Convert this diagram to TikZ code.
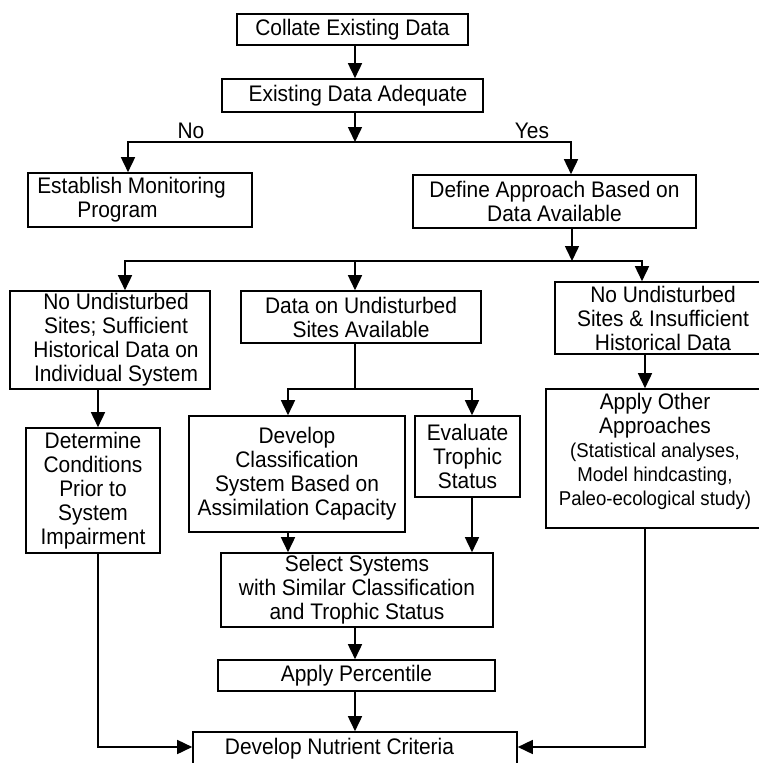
\documentclass[tikz,border=0pt]{standalone}
\usepackage{fontspec}
\setmainfont[FakeStretch=0.93]{Liberation Sans}
\usetikzlibrary{arrows.meta}
\tikzset{
  box/.style={draw, line width=1.6pt, inner sep=0pt, align=center, font=\fontsize{22.5}{24}\selectfont},
  arr/.style={line width=1.6pt, line join=miter, -{Triangle[length=15pt,width=14pt]}},
  ln/.style={line width=1.6pt},
  lbl/.style={inner sep=0pt, align=center, font=\fontsize{22.5}{24}\selectfont},
}
\newcommand{\smalltxt}{\fontsize{20}{23}\selectfont}
\begin{document}
\begin{tikzpicture}[x=1pt,y=-1pt]
\useasboundingbox (0,0) rectangle (759,763);
\clip (0,0) rectangle (759,763);

% boxes
\node[box, minimum width=231pt, minimum height=31pt] (collate) at (352.5,29.5) {Collate Existing Data};
\node[box, minimum width=261pt, minimum height=33pt] (adequate) at (352.5,95.5) {\hspace*{11pt}Existing Data Adequate};
\node[box, minimum width=224pt, minimum height=54pt] (establish) at (140,200) {Establish Monitoring\hspace*{17pt}\\Program\hspace*{45pt}};
\node[box, minimum width=283pt, minimum height=53pt] (define) at (554.5,201.5) {Define Approach Based on\\Data Available};
\node[box, minimum width=200pt, minimum height=98pt] (left3) at (110,340) {\hspace*{12pt}No Undisturbed\\\hspace*{12pt}Sites; Sufficient\\\hspace*{12pt}Historical Data on\\\hspace*{12pt}Individual System};
\node[box, minimum width=240pt, minimum height=52pt] (mid3) at (361,317) {Data on Undisturbed\\Sites Available};
\node[box, minimum width=216pt, minimum height=72pt] (right3) at (663,318) {No Undisturbed\\Sites \& Insufficient\\Historical Data};
\node[box, minimum width=134pt, minimum height=125pt] (determine) at (93,490.5) {Determine\\Conditions\\Prior to\\System\\Impairment};
\node[box, minimum width=216pt, minimum height=116pt] (classif) at (297,474) {Develop\\Classification\\System Based on\\Assimilation Capacity};
\node[box, minimum width=105pt, minimum height=81pt] (evaluate) at (467.5,456.5) {Evaluate\\Trophic\\Status};
\node[box, minimum width=218pt, minimum height=139pt] (applyother) at (655,458.5) {};
\node[lbl] (applytxt) at (655,451) {Apply Other\\Approaches\\{\smalltxt (Statistical analyses,}\\{\smalltxt Model hindcasting,}\\{\smalltxt Paleo-ecological study)}};
\node[box, minimum width=272pt, minimum height=74pt] (select) at (357,590) {Select Systems\\with Similar Classification\\and Trophic Status};
\node[box, minimum width=277pt, minimum height=31pt] (percentile) at (356.5,675.5) {Apply Percentile};
\node[box, minimum width=324pt, minimum height=34pt] (nutrient) at (355,749) {Develop Nutrient Criteria\hspace*{31pt}};

% labels
\node[lbl] (no) at (191,131) {No};
\node[lbl] (yes) at (532,131) {Yes};

% junction points
\coordinate (c1) at (355,142);
\coordinate (c1l) at (128,142);
\coordinate (c1r) at (571,142);
\coordinate (c2) at (572,261);
\coordinate (c2l) at (125,261);
\coordinate (c2m) at (355,261);
\coordinate (c2r) at (642,261);
\coordinate (c3) at (355,389);
\coordinate (c3l) at (288,389);
\coordinate (c3r) at (472,389);
\coordinate (jl) at (98,747);
\coordinate (jr) at (645,747);

% connectors
\draw[arr] (collate.south -| c1) -- (adequate.north -| c1);
\draw[arr] (adequate.south -| c1) -- (c1);
\draw[arr] (c1) -| (establish.north -| c1l);
\draw[arr] (c1) -| (define.north -| c1r);
\draw[arr] (define.south -| c2) -- (c2);
\draw[arr] (c2) -| (left3.north -| c2l);
\draw[arr] (c2) -| (right3.north -| c2r);
\draw[arr] (c2m) -- (mid3.north -| c2m);
\draw[arr] (left3.south -| jl) -- (determine.north -| jl);
\draw[ln] (mid3.south -| c3) -- (c3);
\draw[arr] (c3) -| (classif.north -| c3l);
\draw[arr] (c3) -| (evaluate.north -| c3r);
\draw[arr] (right3.south -| jr) -- (applyother.north -| jr);
\draw[arr] (classif.south -| c3l) -- (select.north -| c3l);
\draw[arr] (evaluate.south -| c3r) -- (select.north -| c3r);
\draw[arr] (select.south -| c1) -- (percentile.north -| c1);
\draw[arr] (percentile.south -| c1) -- (nutrient.north -| c1);
\draw[arr] (determine.south -| jl) -- (jl) -- (jl -| nutrient.west);
\draw[arr] (applyother.south -| jr) -- (jr) -- (jr -| nutrient.east);
\end{tikzpicture}
\end{document}
